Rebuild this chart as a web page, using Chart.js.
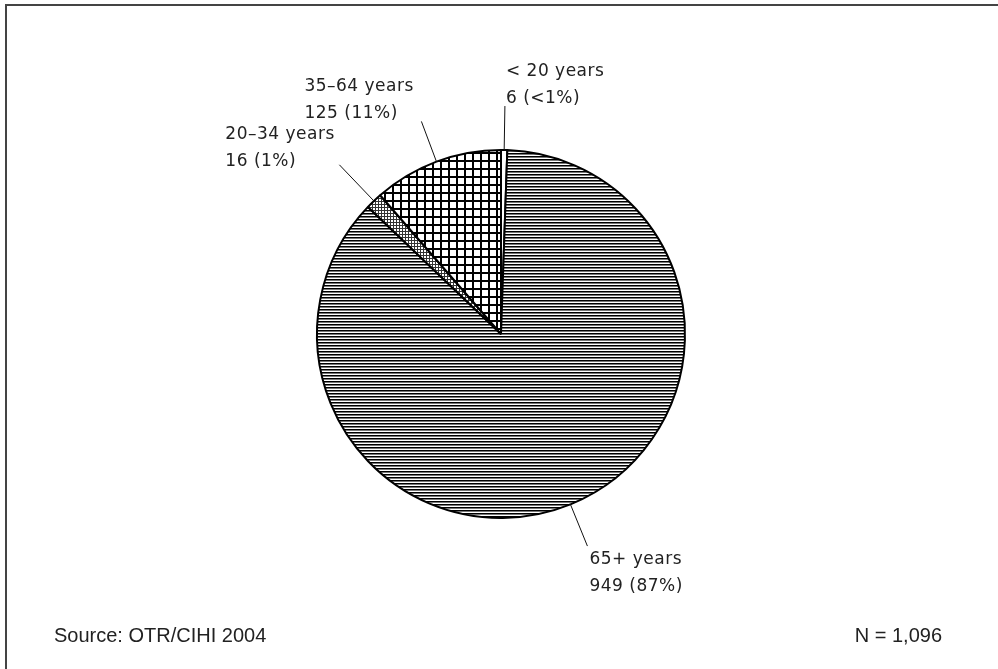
<!DOCTYPE html>
<html>
<head>
<meta charset="utf-8">
<script src="https://cdn.jsdelivr.net/npm/chart.js@4/dist/chart.umd.min.js"></script>
<style>
    body { margin: 0; background: #fff; }
    #wrap { position: relative; width: 998px; height: 669px; }
    #frame { position: absolute; left: 5px; top: 4px; right: 0; bottom: 0;
             border-top: 2px solid #444; border-left: 2px solid #444; pointer-events: none; }
</style>
</head>
<body>
<div id="wrap">
    <canvas id="myChart" width="998" height="669"></canvas>
    <div id="frame"></div>
</div>
<script>
// slices in drawing order, clockwise from 12 o'clock
var ageGroups = ['< 20 years', '65+ years', '20\u201334 years', '35\u201364 years'];
var counts = [6, 949, 16, 125];
var percentLabels = ['<1%', '87%', '1%', '11%'];
var sourceNote = 'Source: OTR/CIHI 2004';
var totalNote = 'N = 1,096';

function makePattern(kind) {
    var c = document.createElement('canvas');
    var g = c.getContext('2d');
    if (kind == 'lines') {
        c.width = 3; c.height = 3;
        g.fillStyle = '#fff'; g.fillRect(0, 0, 3, 3);
        g.fillStyle = '#000'; g.fillRect(0, 0, 3, 1);
        g.fillStyle = '#777'; g.fillRect(0, 1, 3, 1);
    } else if (kind == 'grid') {
        c.width = 8; c.height = 8;
        g.fillStyle = '#fff'; g.fillRect(0, 0, 8, 8);
        g.fillStyle = '#000';
        g.fillRect(0, 0, 8, 2);
        g.fillRect(0, 0, 2, 8);
    } else if (kind == 'fine') {
        c.width = 3; c.height = 3;
        g.fillStyle = '#fff'; g.fillRect(0, 0, 3, 3);
        g.fillStyle = '#333';
        g.fillRect(0, 0, 3, 1);
        g.fillRect(0, 0, 1, 3);
    } else {
        c.width = 2; c.height = 2;
        g.fillStyle = '#fff'; g.fillRect(0, 0, 2, 2);
    }
    return g.createPattern(c, 'repeat');
}

// leader length and text offset (left, first baseline) from leader end
var callouts = [
    { len: 44, dx: 1, dy: -30 },
    { len: 45, dx: 2, dy: 18 },
    { len: 50, dx: -114, dy: -26 },
    { len: 43, dx: -117, dy: -30 }
];

var labelPlugin = {
    id: 'labelPlugin',
    afterDraw: function (chart) {
        var ctx = chart.ctx;
        var arcs = chart.getDatasetMeta(0).data;
        ctx.save();
        ctx.strokeStyle = '#111';
        ctx.lineWidth = 1;
        ctx.fillStyle = '#222';
        ctx.font = '17px "DejaVu Sans"';
        ctx.letterSpacing = '0.5px';
        ctx.textBaseline = 'alphabetic';
        ctx.textAlign = 'left';
        arcs.forEach(function (arc, i) {
            var p = arc.getProps(['x', 'y', 'startAngle', 'endAngle', 'outerRadius'], true);
            var mid = (p.startAngle + p.endAngle) / 2;
            var r0 = p.outerRadius;
            var r1 = r0 + callouts[i].len;
            var x0 = p.x + Math.cos(mid) * r0, y0 = p.y + Math.sin(mid) * r0;
            var x1 = p.x + Math.cos(mid) * r1, y1 = p.y + Math.sin(mid) * r1;
            ctx.beginPath();
            ctx.moveTo(x0, y0);
            ctx.lineTo(x1, y1);
            ctx.stroke();
            var tx = x1 + callouts[i].dx, ty = y1 + callouts[i].dy;
            ctx.fillText(ageGroups[i], tx, ty);
            ctx.fillText(counts[i] + ' (' + percentLabels[i] + ')', tx, ty + 27);
        });
        ctx.letterSpacing = '0px';
        ctx.font = '20px "Liberation Sans", Arial';
        ctx.fillText(sourceNote, 54, 642);
        ctx.textAlign = 'right';
        ctx.fillText(totalNote, 942, 642);
        ctx.restore();
    }
};

var myChart = new Chart(document.getElementById('myChart'), {
    type: 'pie',
    data: {
        labels: ageGroups,
        datasets: [{
            data: counts,
            backgroundColor: [makePattern('blank'), makePattern('lines'), makePattern('fine'), makePattern('grid')],
            borderColor: '#000',
            borderWidth: 2
        }]
    },
    options: {
        responsive: false,
        animation: false,
        devicePixelRatio: 1,
        layout: { padding: { left: 316, right: 312, top: 149, bottom: 150 } },
        plugins: {
            legend: { display: false },
            tooltip: { enabled: false }
        }
    },
    plugins: [labelPlugin]
});
</script>
</body>
</html>
